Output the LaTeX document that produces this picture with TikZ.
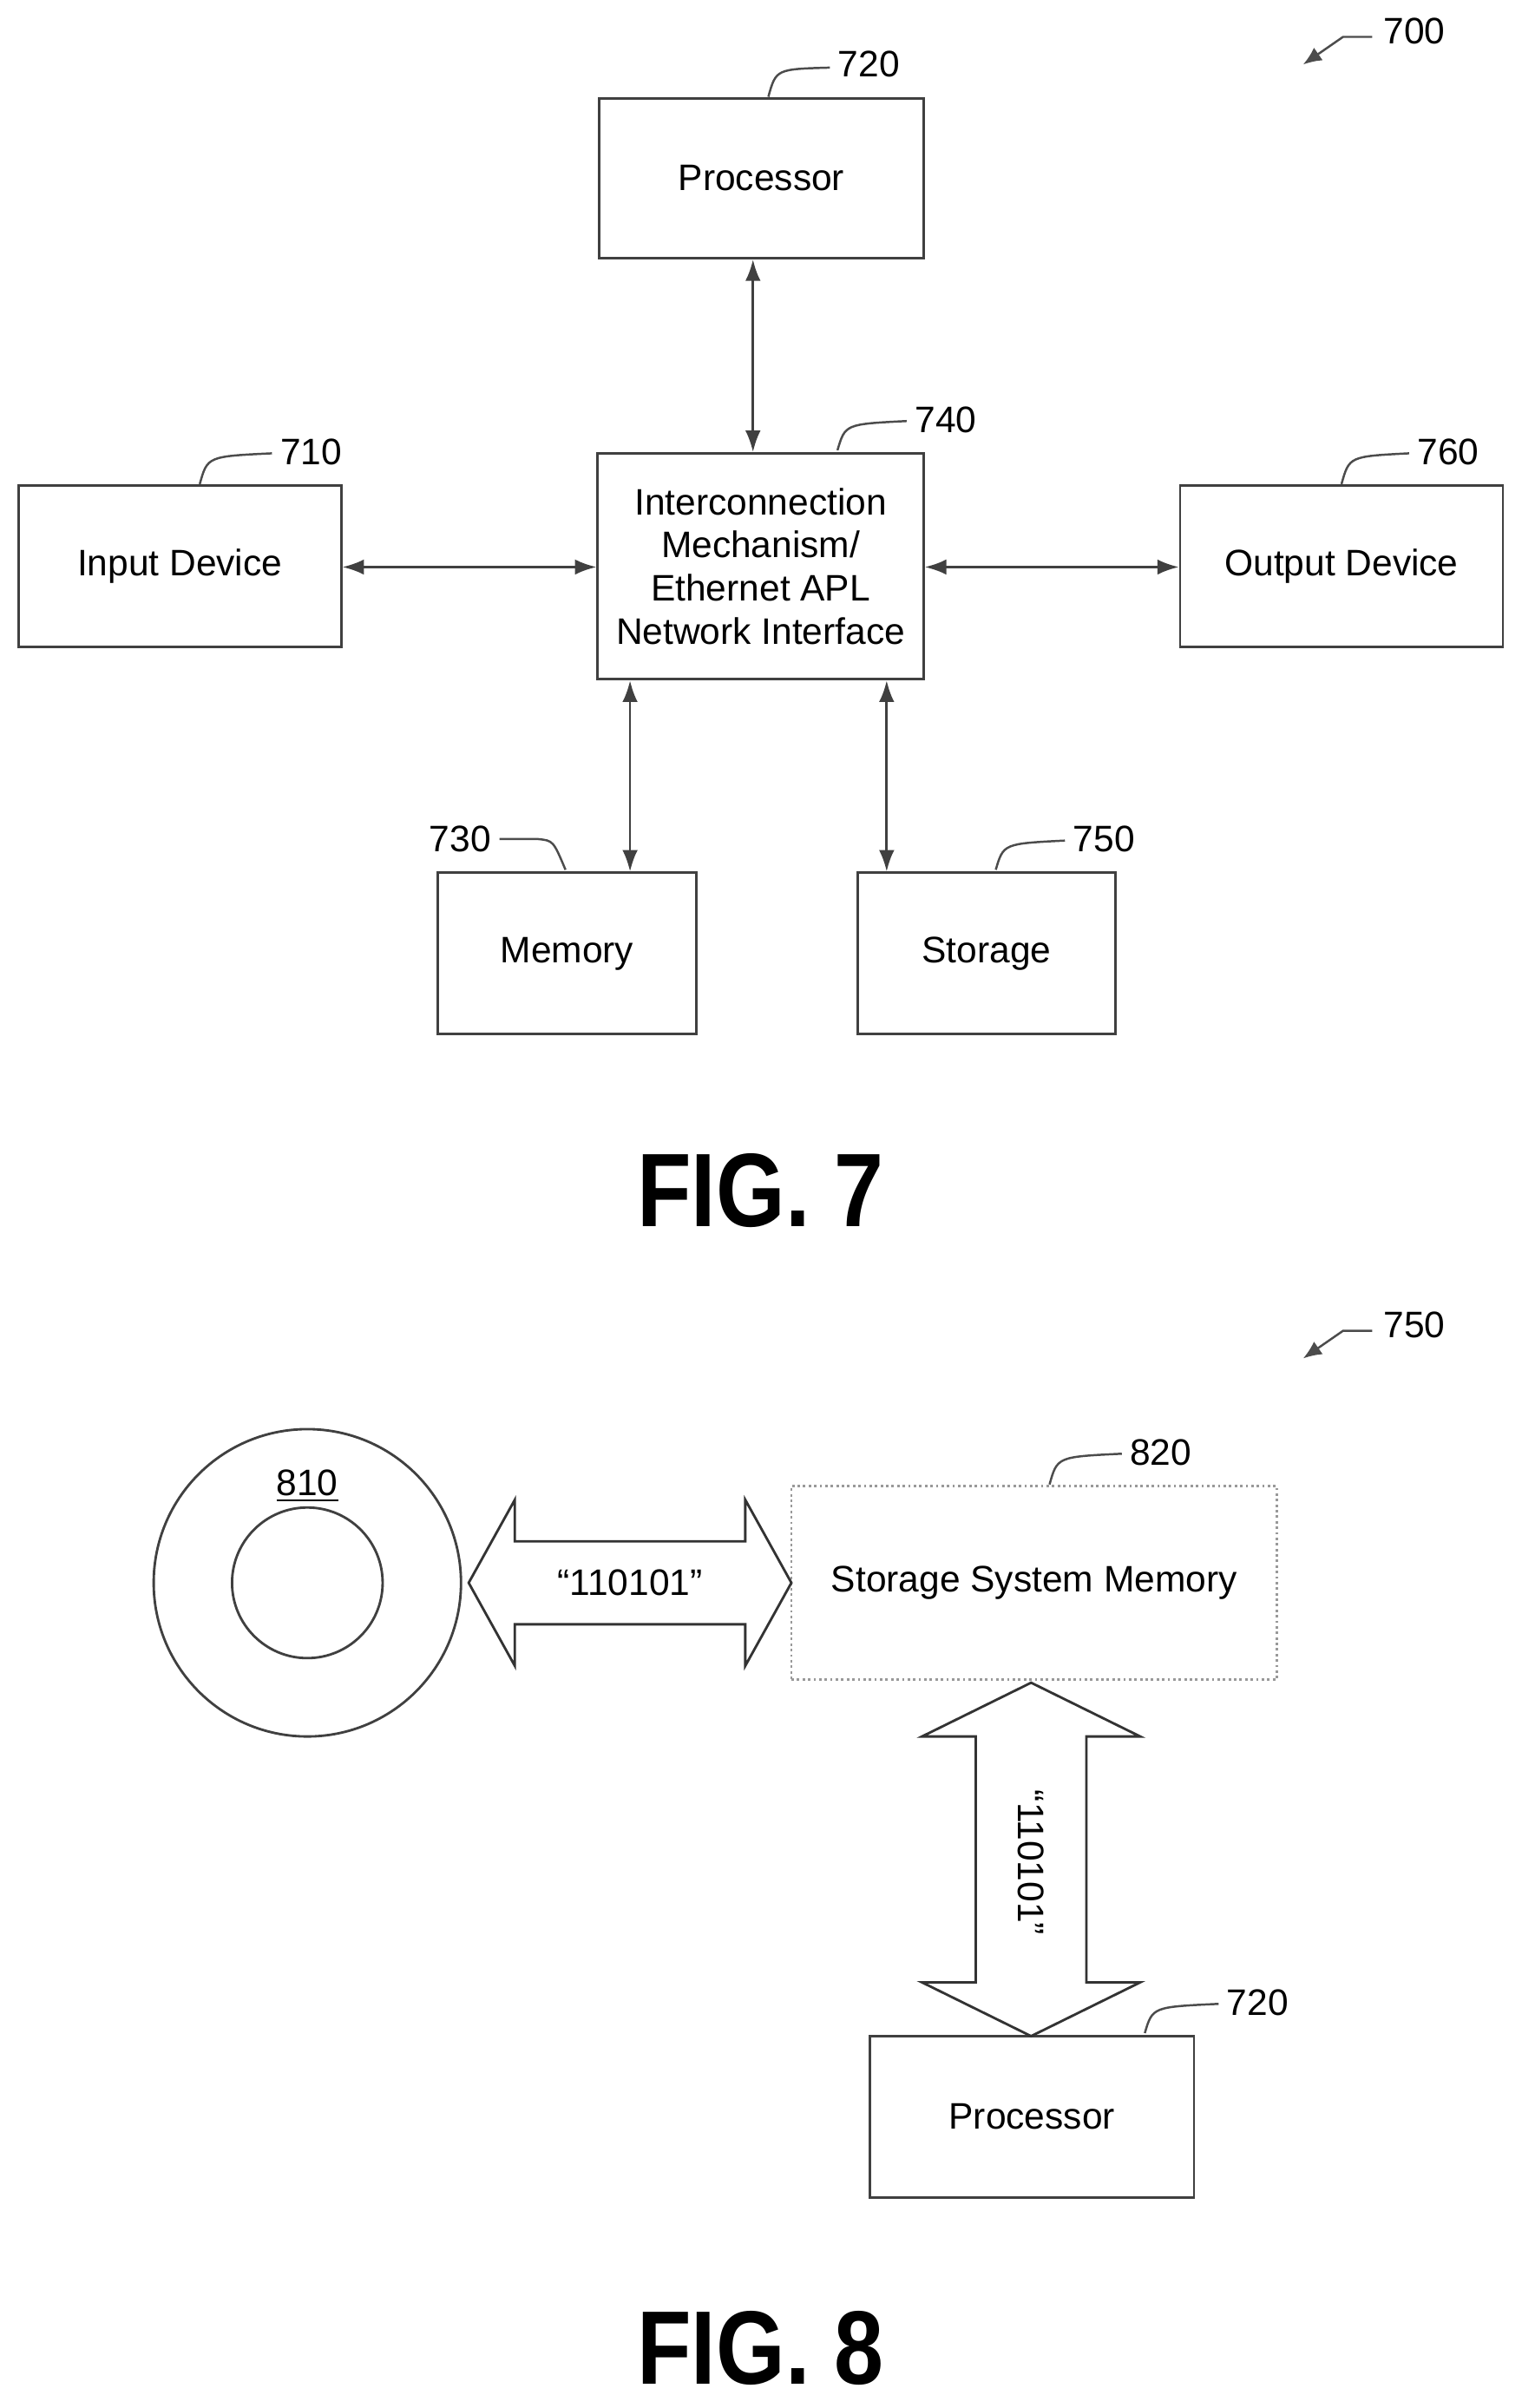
\documentclass[tikz,border=0pt]{standalone}
\usepackage{fontspec}
\setmainfont{Liberation Sans}
\usetikzlibrary{arrows.meta}
\begin{document}
\begin{tikzpicture}[x=0.5pt,y=-0.5pt,
  box/.style={draw=black!75,line width=0.8pt,inner sep=0pt,font=\fontsize{12}{14}\selectfont,align=center},
  num/.style={font=\fontsize{12}{14}\selectfont,anchor=west,inner sep=1pt},
  lead/.style={draw=black!70,line width=0.7pt},
  con/.style={draw=black!75,line width=0.8pt,{Latex[length=7pt,width=5pt]}-{Latex[length=7pt,width=5pt]}},
  fat/.style={draw=black!80,line width=0.8pt,fill=white},
  fig/.style={font=\fontsize{34}{36}\selectfont\bfseries,xscale=0.85}]
\useasboundingbox (0,0) rectangle (990,1567);
% FIG 7
\node[box,minimum width=105.5pt,minimum height=52pt] (proc) at (495.5,116) {Processor};
\node[box,minimum width=106pt,minimum height=73.5pt] (inter) at (495,368.5) {Interconnection\\Mechanism/\\Ethernet APL\\Network Interface};
\node[box,minimum width=105pt,minimum height=52.5pt] (in) at (117,368.5) {Input Device};
\node[box,minimum width=105pt,minimum height=52.5pt] (out) at (873,368.5) {Output Device};
\node[box,minimum width=84pt,minimum height=52.5pt] (mem) at (369,620.5) {Memory};
\node[box,minimum width=84pt,minimum height=52.5pt] (sto) at (642,620.5) {Storage};
\draw[con] (proc.south -| 490,0) -- (inter.north -| 490,0);
\draw[con] (in.east |- 0,369) -- (inter.west |- 0,369);
\draw[con] (out.west |- 0,369) -- (inter.east |- 0,369);
\draw[con] (inter.south -| 410,0) -- (mem.north -| 410,0);
\draw[con] (inter.south -| 577,0) -- (sto.north -| 577,0);
\node[num] (l720) at (543,42) {720};
\draw[lead] (500,63) .. controls (505,45) .. (540,44);
\node[num] (l740) at (593,273) {740};
\draw[lead] (545,293) .. controls (550,276) .. (590,274);
\node[num] (l710) at (180,294) {710};
\draw[lead] (130,315) .. controls (135,297) .. (177,295);
\node[num] (l760) at (920,294) {760};
\draw[lead] (873,315) .. controls (878,297) .. (917,295);
\node[num] (l730) at (277,546) {730};
\draw[lead] (325,546) -- (350,546) .. controls (360,547) .. (368,566);
\node[num] (l750) at (696,546) {750};
\draw[lead] (648,566) .. controls (653,549) .. (693,547);
\node[num] (l700) at (898,20) {700};
\draw[lead,-{Latex[length=6pt,width=5pt]}] (893,24) -- (874,24) -- (848,42);
\node[fig] (f7) at (495,775) {FIG. 7};
% FIG 8
\node[num] (l750b) at (898,862) {750};
\draw[lead,-{Latex[length=6pt,width=5pt]}] (893,866) -- (874,866) -- (848,884);
\draw[black!75,line width=0.8pt] (200,1030) circle[radius=100] circle[radius=49];
\node[font=\fontsize{12}{14}\selectfont] (disk) at (200,967) {\underline{810}};
\node[box,draw=black!40,densely dotted,minimum width=158pt,minimum height=63pt] (ssm) at (673,1030) {Storage System Memory};
\node[num] (l820) at (733,945) {820};
\draw[lead] (683,966) .. controls (688,948) .. (730,946);
\draw[fat] (305,1030) -- (335,976) -- (335,1003) -- (485,1003) -- (485,976) -- (515,1030) -- (485,1084) -- (485,1057) -- (335,1057) -- (335,1084) -- cycle;
\node[font=\fontsize{12}{14}\selectfont] (b1) at (410,1030) {“110101”};
\node[box,minimum width=105.5pt,minimum height=52.5pt] (proc2) at (671.5,1377.5) {Processor};
\draw[fat] (671,1095) -- (742,1130) -- (707,1130) -- (707,1290) -- (742,1290) -- (671,1325) -- (600,1290) -- (635,1290) -- (635,1130) -- (600,1130) -- cycle;
\node[font=\fontsize{12}{14}\selectfont,rotate=-90] (b2) at (671,1212) {“110101”};
\node[num] (l720b) at (796,1303) {720};
\draw[lead] (745,1323) .. controls (750,1306) .. (793,1304);
\node[fig] (f8) at (495,1528) {FIG. 8};
\end{tikzpicture}
\end{document}
